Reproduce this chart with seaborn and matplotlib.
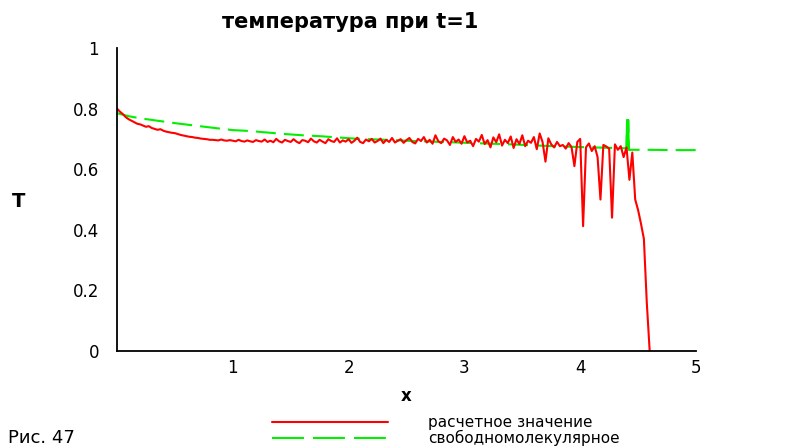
import numpy as np
import matplotlib
matplotlib.use("Agg")
import matplotlib.pyplot as plt
import seaborn as sns
from matplotlib.lines import Line2D

sns.set_theme(style="white")
plt.rcParams['font.family'] = ['DejaVu Sans']
plt.rcParams['lines.scale_dashes'] = False
plt.rcParams['text.color'] = 'black'

# ---- data -------------------------------------------------------------
title = "температура при t=1"
label_calc = "расчетное значение"
label_free = "свободномолекулярное"
caption = "Рис. 47"

# computed temperature, sampled every 0.025 along x
x_step = 0.025
T_calc = [
    0.800, 0.790, 0.782, 0.772, 0.765, 0.760, 0.755, 0.750, 0.748, 0.744,
    0.740, 0.742, 0.736, 0.733, 0.730, 0.732, 0.727, 0.724, 0.722, 0.720,
    0.719, 0.716, 0.713, 0.711, 0.709, 0.707, 0.706, 0.704, 0.703, 0.701,
    0.700, 0.699, 0.697, 0.697, 0.696, 0.695, 0.698, 0.695, 0.694, 0.696,
    0.694, 0.692, 0.697, 0.693, 0.691, 0.695, 0.692, 0.690, 0.696, 0.693,
    0.691, 0.698, 0.690, 0.694, 0.689, 0.700, 0.692, 0.688, 0.697, 0.693,
    0.690, 0.699, 0.691, 0.686, 0.696, 0.694, 0.689, 0.701, 0.692, 0.688,
    0.697, 0.691, 0.686, 0.699, 0.693, 0.690, 0.702, 0.688, 0.695, 0.691,
    0.699, 0.687, 0.694, 0.704, 0.690, 0.686, 0.698, 0.692, 0.700, 0.688,
    0.693, 0.701, 0.686, 0.697, 0.690, 0.703, 0.688, 0.694, 0.699, 0.687,
    0.696, 0.703, 0.690, 0.685, 0.700, 0.693, 0.706, 0.688, 0.697, 0.684,
    0.712, 0.692, 0.686, 0.701, 0.695, 0.680, 0.706, 0.690, 0.698, 0.684,
    0.709, 0.688, 0.694, 0.676, 0.700, 0.691, 0.713, 0.683, 0.696, 0.672,
    0.705, 0.689, 0.715, 0.678, 0.697, 0.686, 0.708, 0.670, 0.699, 0.683,
    0.712, 0.676, 0.694, 0.687, 0.706, 0.666, 0.718, 0.690, 0.625, 0.702,
    0.682, 0.672, 0.690, 0.676, 0.680, 0.668, 0.686, 0.673, 0.610, 0.690,
    0.700, 0.412, 0.672, 0.685, 0.660, 0.676, 0.640, 0.500, 0.680, 0.675,
    0.668, 0.440, 0.682, 0.664, 0.676, 0.640, 0.672, 0.565, 0.655, 0.500,
    0.465, 0.420, 0.370, 0.160, 0.000,
]

# free-molecular solution
x_free = [0.0, 0.1, 0.2, 0.35, 0.5, 0.65, 0.8, 1.0, 1.15, 1.3, 1.45, 1.6,
          1.75, 1.9, 2.05, 2.25, 2.5, 2.8, 3.1, 3.4, 3.7, 4.0, 4.2, 4.40,
          4.405, 4.415, 4.42, 4.6, 4.8, 5.0]
T_free = [0.785, 0.775, 0.768, 0.760, 0.752, 0.745, 0.738, 0.729, 0.726,
          0.721, 0.716, 0.712, 0.709, 0.705, 0.701, 0.698, 0.694, 0.690,
          0.686, 0.682, 0.677, 0.673, 0.671, 0.669, 0.762, 0.762, 0.664,
          0.664, 0.663, 0.663]

x_ticks = [1, 2, 3, 4, 5]
x_tick_labels = ["1", "2", "3", "4", "5"]
y_ticks = [0, 0.2, 0.4, 0.6, 0.8, 1.0]
y_tick_labels = ["0", "0.2", "0.4", "0.6", "0.8", "1"]

x_calc = np.round(np.arange(len(T_calc)) * x_step, 4)

# ---- figure -----------------------------------------------------------
W, H = 796, 448
fig = plt.figure(figsize=(W / 100, H / 100), dpi=100)
fig.patch.set_facecolor("white")
ax = fig.add_axes([117 / W, 1 - 351 / H, (696 - 117) / W, (351 - 48) / H])
ax.set_facecolor("white")

red = "#ff0000"
green = "#00f000"

# free-molecular curve: dashed, with the narrow peak drawn as a solid stroke
sns.lineplot(x=x_free, y=T_free, ax=ax, color=green, lw=1.5,
             estimator=None, sort=False)
ax.lines[-1].set_dashes([14.4, 5.8])
i0 = x_free.index(4.40)
sns.lineplot(x=x_free[i0:i0 + 4], y=T_free[i0:i0 + 4], ax=ax, color=green,
             lw=1.5, estimator=None, sort=False)

sns.lineplot(x=x_calc, y=T_calc, ax=ax, color=red, lw=1.5,
             estimator=None, sort=False)

ax.set_xlim(0, 5)
ax.set_ylim(0, 1)
ax.set_xlabel("")
ax.set_ylabel("")

for s in ("top", "right"):
    ax.spines[s].set_visible(False)
for s in ("left", "bottom"):
    ax.spines[s].set_color("black")
    ax.spines[s].set_linewidth(1.3)

ax.set_xticks(x_ticks)
ax.set_xticklabels(x_tick_labels)
ax.set_xticks([v / 5 for v in range(1, 25) if v % 5], minor=True)
ax.set_yticks(y_ticks)
ax.set_yticklabels(y_tick_labels)
ax.set_yticks([v / 25 for v in range(1, 25) if v % 5], minor=True)

ax.tick_params(axis="x", which="major", direction="out", length=5, width=1.3,
               color="black", pad=1, labelsize=12, labelcolor="black")
ax.tick_params(axis="x", which="minor", direction="out", length=4, width=1.1,
               color="black")
ax.tick_params(axis="y", which="major", direction="out", length=8, width=1.2,
               color="black", pad=5, labelsize=12, labelcolor="black")
ax.tick_params(axis="y", which="minor", direction="out", length=4.5, width=1.1,
               color="black")

# titles and axis names
fig.text(350 / W, 1 - 22 / H, title, ha="center", va="center",
         fontsize=15, fontweight="bold", color="black")
fig.text(19 / W, 1 - 201 / H, "T", ha="center", va="center",
         fontsize=14, fontweight="bold", color="black")
fig.text(406 / W, 1 - 396 / H, "x", ha="center", va="center",
         fontsize=12, fontweight="bold", color="black")

# legend below the plot
handles = [Line2D([], [], color=red, lw=1.5),
           Line2D([], [], color=green, lw=1.5, dashes=[23, 6.5])]
fig.legend(handles, [label_calc, label_free], loc="upper left",
           bbox_to_anchor=(272 / W, 1 - 415 / H), frameon=False,
           fontsize=11, handlelength=7.6, handletextpad=2.6,
           labelspacing=0.0, borderpad=0, borderaxespad=0,
           labelcolor="black")

# figure caption
fig.text(8 / W, 1 - 447 / H, caption, ha="left", va="bottom",
         fontsize=13, color="black")

fig.savefig("out.png", dpi=100, facecolor="white")
